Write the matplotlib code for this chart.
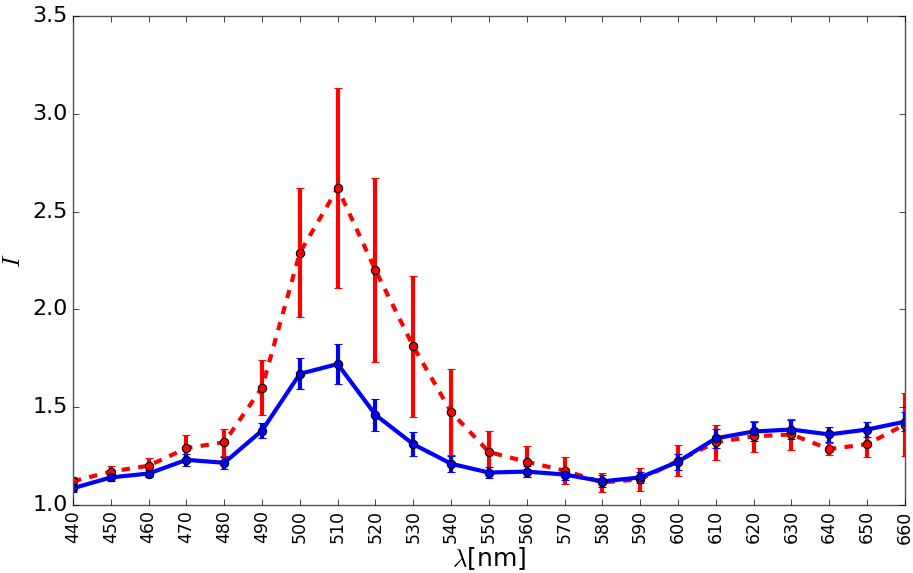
import matplotlib
matplotlib.use("Agg")
import matplotlib.pyplot as plt

plt.style.use("classic")

wavelengths = [440, 450, 460, 470, 480, 490, 500, 510, 520, 530, 540, 550,
               560, 570, 580, 590, 600, 610, 620, 630, 640, 650, 660]
red_vals = [1.12, 1.17, 1.20, 1.29, 1.32, 1.60, 2.29, 2.62, 2.20, 1.81, 1.475, 1.27,
            1.22, 1.175, 1.115, 1.13, 1.225, 1.32, 1.35, 1.36, 1.285, 1.31, 1.41]
red_err = [0.02, 0.03, 0.04, 0.065, 0.07, 0.14, 0.33, 0.51, 0.47, 0.36, 0.22, 0.11,
           0.08, 0.07, 0.05, 0.06, 0.08, 0.09, 0.08, 0.08, 0.03, 0.065, 0.16]
blue_vals = [1.085, 1.14, 1.16, 1.23, 1.215, 1.38, 1.67, 1.72, 1.46, 1.31, 1.21, 1.165,
             1.17, 1.155, 1.12, 1.14, 1.22, 1.34, 1.375, 1.385, 1.36, 1.385, 1.425]
blue_err = [0.02, 0.02, 0.02, 0.03, 0.03, 0.04, 0.08, 0.10, 0.08, 0.06, 0.04, 0.03,
            0.03, 0.03, 0.03, 0.03, 0.04, 0.05, 0.05, 0.05, 0.04, 0.04, 0.05]

fig = plt.figure(figsize=(9.13, 5.73), dpi=100, facecolor="white")
ax = fig.add_axes([0.080, 0.119, 0.911, 0.853])

ax.errorbar(wavelengths, red_vals, yerr=red_err, color="red", ls="--", lw=3,
            marker="o", ms=6, mfc="red", mec="black", mew=0.8,
            elinewidth=3, capsize=3, capthick=1, ecolor="red")
ax.errorbar(wavelengths, blue_vals, yerr=blue_err, color="blue", ls="-", lw=3,
            marker="o", ms=6, mfc="blue", mec="black", mew=0.8,
            elinewidth=3, capsize=3, capthick=1, ecolor="blue")

ax.set_xlim(440, 660)
ax.set_ylim(1.0, 3.5)
ax.set_xticks(wavelengths)
ax.set_xticklabels([str(w) for w in wavelengths], rotation=90, fontsize=12.5)
ax.tick_params(axis="y", labelsize=16)
for s in ax.spines.values():
    s.set_color("#555555")
ax.set_xlabel(r"$\lambda$[nm]", fontsize=18, labelpad=1)
ax.set_ylabel(r"$I$", fontsize=18)

fig.savefig("out.png", dpi=100, facecolor="white")
